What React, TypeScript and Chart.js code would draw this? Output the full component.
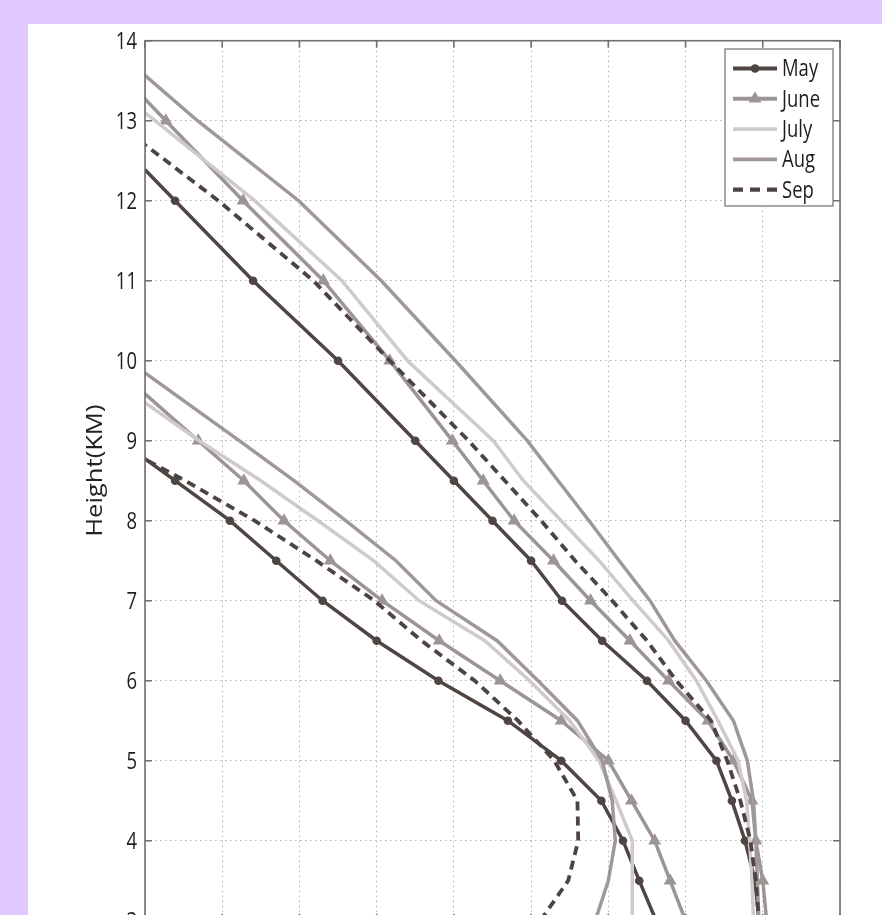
import React, { useEffect, useRef } from "react";
import { Chart, registerables } from "chart.js";

Chart.register(...registerables);

// ---- data (x in grid units 0..9, y = height in km) ----
const heightsUpper = [14, 13, 12, 11, 10, 9, 8.5, 8, 7.5, 7, 6.5, 6, 5.5, 5, 4.5, 4, 3.5, 3];
const heightsLower = [10, 9, 8.5, 8, 7.5, 7, 6.5, 6, 5.5, 5, 4.5, 4, 3.5, 3];

const mayUpper = [-1.6, -0.62, 0.39, 1.4, 2.5, 3.5, 4.0, 4.5, 5.0, 5.4, 5.92, 6.5, 7.0, 7.4, 7.6, 7.77, 7.9, 7.95];
const mayLower = [-1.72, -0.32, 0.39, 1.1, 1.7, 2.3, 3.0, 3.8, 4.7, 5.39, 5.91, 6.19, 6.4, 6.62];

const juneUpper = [-0.73, 0.27, 1.27, 2.31, 3.17, 3.98, 4.38, 4.78, 5.29, 5.77, 6.28, 6.78, 7.29, 7.62, 7.86, 7.91, 8.0, 8.05];
const juneLower = [-0.49, 0.69, 1.28, 1.8, 2.4, 3.07, 3.81, 4.6, 5.39, 6.0, 6.3, 6.6, 6.8, 7.0];

const julyUpper = [-1.16, 0.13, 1.42, 2.55, 3.4, 4.51, 4.9, 5.39, 5.88, 6.32, 6.78, 7.14, 7.42, 7.68, 7.79, 7.83, 7.86, 7.88];
const julyLower = [-0.77, 0.7, 1.5, 2.24, 2.96, 3.55, 4.4, 4.98, 5.5, 5.88, 6.1, 6.31, 6.31, 6.31];

const augUpper = [-0.52, 0.68, 1.99, 3.06, 4.02, 4.95, 5.35, 5.75, 6.14, 6.54, 6.86, 7.27, 7.62, 7.8, 7.88, 7.91, 7.93, 7.95];
const augLower = [-0.22, 1.22, 1.93, 2.6, 3.25, 3.77, 4.56, 5.09, 5.6, 5.92, 6.05, 6.09, 6.0, 5.83];

const sepUpper = [-1.77, -0.41, 0.95, 2.18, 3.17, 4.19, 4.66, 5.13, 5.57, 6.05, 6.5, 6.88, 7.33, 7.54, 7.71, 7.84, 7.91, 7.95];
const sepLower = [-1.9, -0.45, 0.52, 1.42, 2.22, 2.97, 3.58, 4.27, 4.83, 5.3, 5.6, 5.61, 5.48, 5.12];

const monthNames = ["May", "June", "July", "Aug", "Sep"];
const yAxisRange = [3, 14];
const xAxisRange = [0, 9];
const yTitle = "Height(KM)";

// ---- styles ----
const styles = [
  { color: "#4f4542", width: 3.5, dash: [] as number[], point: "circle", radius: 4.3, order: 5 },
  { color: "#9d9494", width: 3.5, dash: [] as number[], point: "triangle", radius: 7.5, order: 4 },
  { color: "#d0cbcb", width: 3.5, dash: [] as number[], point: "none", radius: 0, order: 3 },
  { color: "#a0979a", width: 3.5, dash: [] as number[], point: "none", radius: 0, order: 2 },
  { color: "#4d4343", width: 3.8, dash: [9, 6], point: "none", radius: 0, order: 1 },
];

const branches = [
  [mayUpper, mayLower],
  [juneUpper, juneLower],
  [julyUpper, julyLower],
  [augUpper, augLower],
  [sepUpper, sepLower],
];

const FONT = "'Open Sans', 'Noto Sans', 'Liberation Sans', sans-serif";

function buildSeries(upper: number[], lower: number[]) {
  const a = upper.map((x, i) => ({ x, y: heightsUpper[i] }));
  const b = lower.map((x, i) => ({ x, y: heightsLower[i] }));
  return [...a, { x: null, y: null }, ...b];
}

function drawMarker(ctx: CanvasRenderingContext2D, kind: string, x: number, y: number, r: number, color: string) {
  if (kind === "none") return;
  ctx.save();
  ctx.fillStyle = color;
  ctx.strokeStyle = color;
  ctx.setLineDash([]);
  ctx.beginPath();
  if (kind === "circle") {
    ctx.arc(x, y, r, 0, Math.PI * 2);
  } else {
    let rad = 0;
    const t = (2 * Math.PI) / 3;
    ctx.moveTo(x + Math.sin(rad) * r, y - Math.cos(rad) * r);
    rad += t;
    ctx.lineTo(x + Math.sin(rad) * r, y - Math.cos(rad) * r);
    rad += t;
    ctx.lineTo(x + Math.sin(rad) * r, y - Math.cos(rad) * r);
    ctx.closePath();
  }
  ctx.fill();
  ctx.restore();
}

// text squeezed horizontally (the reference uses a condensed face)
function condensedText(ctx: CanvasRenderingContext2D, text: string, x: number, y: number, size: number, align: CanvasTextAlign) {
  ctx.save();
  ctx.translate(x, y);
  ctx.scale(0.77, 1);
  ctx.font = `${size}px ${FONT}`;
  ctx.textAlign = align;
  ctx.textBaseline = "middle";
  ctx.fillText(text, 0, 0);
  ctx.restore();
}

const decorPlugin = {
  id: "decor",
  afterDatasetsDraw(chart: any) {
    const { ctx, chartArea: a, scales } = chart;
    ctx.save();
    ctx.strokeStyle = "#6f6f6f";
    ctx.lineWidth = 1.6;
    ctx.setLineDash([]);
    ctx.strokeRect(a.left, a.top, a.right - a.left, a.bottom - a.top);
    ctx.beginPath();
    scales.y.ticks.forEach((t: any) => {
      const y = scales.y.getPixelForValue(t.value);
      ctx.moveTo(a.left, y);
      ctx.lineTo(a.left + 7, y);
      ctx.moveTo(a.right, y);
      ctx.lineTo(a.right - 7, y);
    });
    scales.x.ticks.forEach((t: any) => {
      const x = scales.x.getPixelForValue(t.value);
      ctx.moveTo(x, a.top);
      ctx.lineTo(x, a.top + 7);
      ctx.moveTo(x, a.bottom);
      ctx.lineTo(x, a.bottom - 7);
    });
    ctx.stroke();
    ctx.restore();
    // y tick labels from the scale's own ticks
    ctx.save();
    ctx.fillStyle = "#1e1e1e";
    scales.y.ticks.forEach((t: any) => {
      const y = scales.y.getPixelForValue(t.value);
      condensedText(ctx, String(t.label ?? t.value), a.left - 8, y + 1, 24, "right");
    });
    ctx.restore();
  },
  afterDraw(chart: any) {
    const { ctx, chartArea: a } = chart;
    // legend box
    const boxRight = a.right - 7;
    const boxLeft = boxRight - 108;
    const boxTop = a.top + 8.3;
    const boxBottom = boxTop + 157;
    ctx.save();
    ctx.fillStyle = "#ffffff";
    ctx.fillRect(boxLeft, boxTop, boxRight - boxLeft, boxBottom - boxTop);
    ctx.strokeStyle = "#7a7a7a";
    ctx.lineWidth = 1.3;
    ctx.strokeRect(boxLeft, boxTop, boxRight - boxLeft, boxBottom - boxTop);
    chart.data.datasets.forEach((ds: any, i: number) => {
      const st = styles[i];
      const y = boxTop + 19.5 + i * 30.3;
      const x1 = boxLeft + 8;
      const x2 = boxLeft + 52;
      ctx.save();
      ctx.strokeStyle = st.color;
      ctx.lineWidth = st.width + 0.4;
      ctx.setLineDash(st.dash.length ? [10, 7] : []);
      ctx.beginPath();
      ctx.moveTo(x1, y);
      ctx.lineTo(x2, y);
      ctx.stroke();
      ctx.restore();
      drawMarker(ctx, st.point, (x1 + x2) / 2, y, st.radius, st.color);
      ctx.fillStyle = "#1e1e1e";
      condensedText(ctx, ds.label, x2 + 5, y + 1, 24, "left");
    });
    // y axis title (stretched along its direction, as in the reference)
    ctx.translate(a.left - 48.5, (a.top + a.bottom) / 2 - 10);
    ctx.rotate(-Math.PI / 2);
    ctx.scale(1.22, 1);
    ctx.fillStyle = "#222222";
    ctx.font = `21px ${FONT}`;
    ctx.textAlign = "center";
    ctx.textBaseline = "middle";
    ctx.fillText(yTitle, 0, 0);
    ctx.restore();
  },
};

export default function App() {
  const ref = useRef<HTMLCanvasElement>(null);
  useEffect(() => {
    const datasets = monthNames.map((name, i) => {
      const st = styles[i];
      return {
        label: name,
        data: buildSeries(branches[i][0], branches[i][1]),
        borderColor: st.color,
        backgroundColor: st.color,
        borderWidth: st.width,
        borderDash: st.dash,
        pointStyle: st.point === "none" ? "circle" : st.point,
        pointRadius: st.radius,
        pointBackgroundColor: st.color,
        pointBorderColor: st.color,
        pointBorderWidth: 0,
        tension: 0,
        spanGaps: false,
        fill: false,
        order: st.order,
      };
    });
    const gridOpts = { color: "#b3b3b3", lineWidth: 1, drawTicks: false };
    const chart = new Chart(ref.current as HTMLCanvasElement, {
      type: "line",
      data: { datasets } as any,
      options: {
        responsive: false,
        devicePixelRatio: 1,
        animation: false,
        layout: { padding: { left: 0, top: 16.7, right: 42, bottom: 0 } },
        plugins: { legend: { display: false }, tooltip: { enabled: false } },
        scales: {
          x: {
            type: "linear",
            min: xAxisRange[0],
            max: xAxisRange[1],
            ticks: { stepSize: 1, display: false },
            grid: gridOpts,
            border: { display: false, dash: [1.5, 3.5] },
            afterFit: (s: any) => {
              s.height = 960 - 896.7;
            },
          },
          y: {
            type: "linear",
            min: yAxisRange[0],
            max: yAxisRange[1],
            ticks: { stepSize: 1, display: false },
            grid: gridOpts,
            border: { display: false, dash: [1.5, 3.5] },
            afterFit: (s: any) => {
              s.width = 117;
            },
          },
        },
      } as any,
      plugins: [decorPlugin],
    });
    return () => chart.destroy();
  }, []);
  return (
    <div
      style={{
        position: "fixed",
        left: 0,
        top: 0,
        width: 882,
        height: 915,
        background: "#E1C9FF",
        overflow: "hidden",
      }}
    >
      <div style={{ position: "absolute", left: 28, top: 24, width: 854, height: 960, background: "#ffffff" }}>
        <canvas ref={ref} width={854} height={960} style={{ display: "block", width: 854, height: 960 }} />
      </div>
    </div>
  );
}
